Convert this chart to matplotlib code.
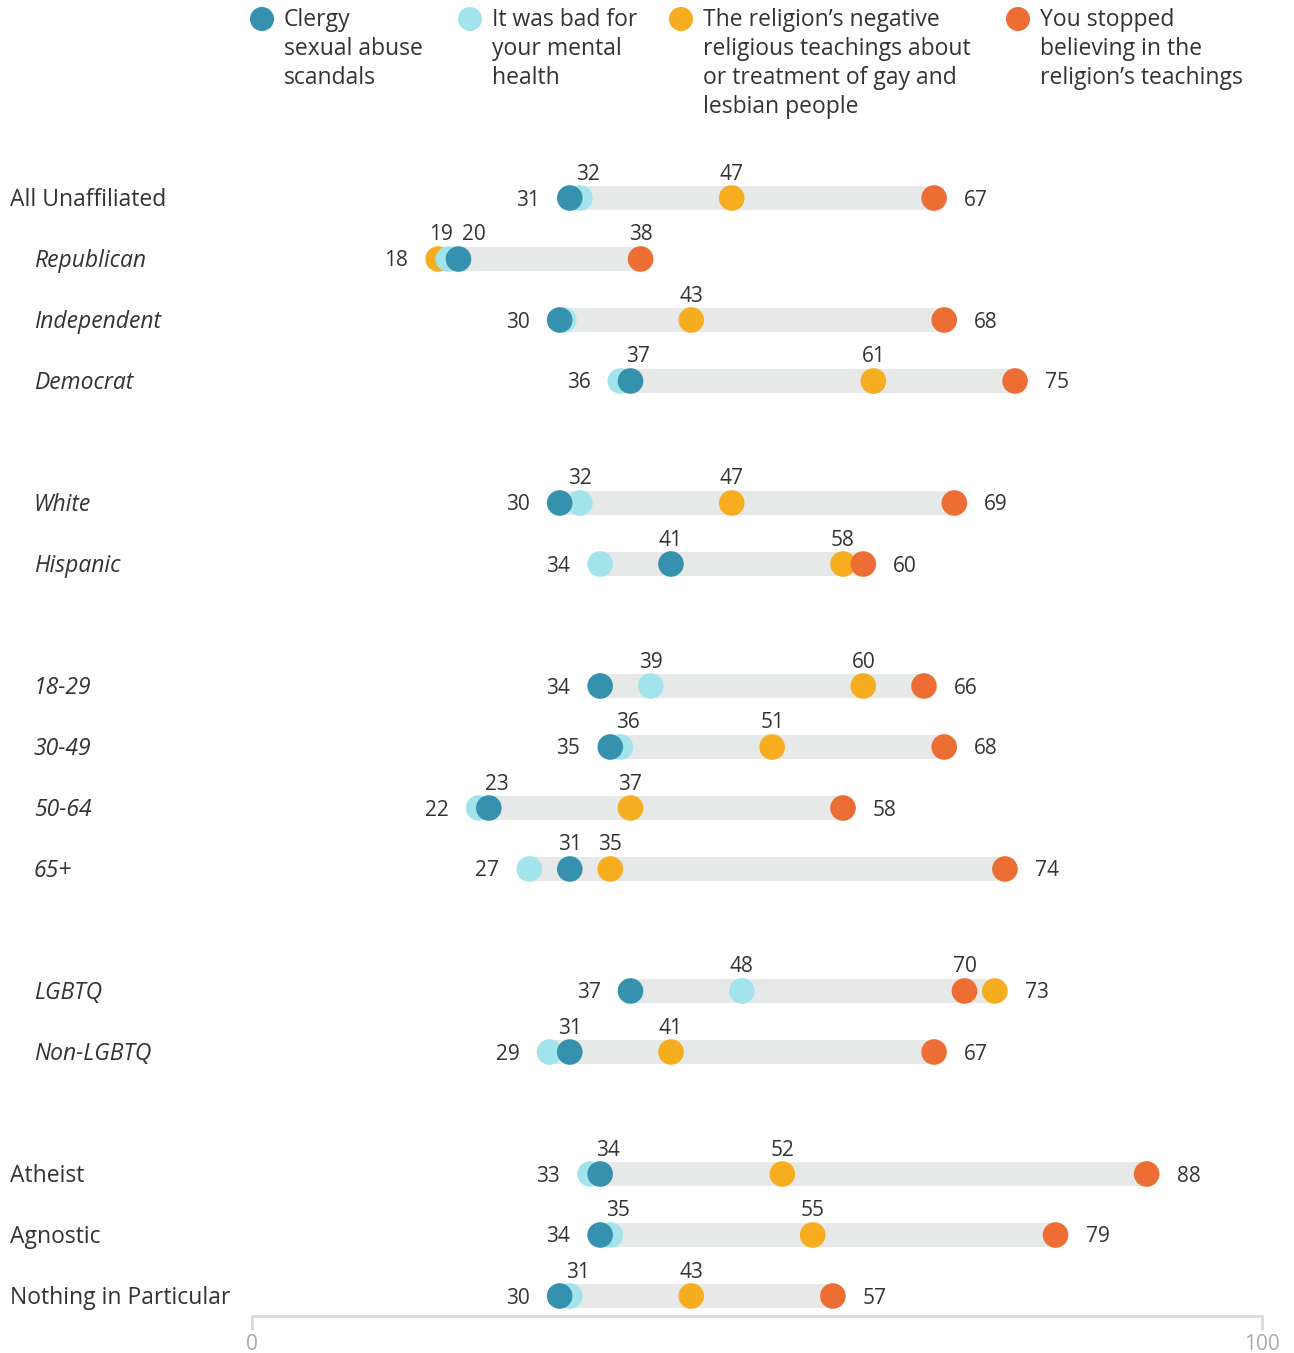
import numpy as np
import matplotlib.pyplot as plt

plt.rcParams['font.family'] = ['Open Sans', 'DejaVu Sans']

# data
rows = ['All Unaffiliated', 'Republican', 'Independent', 'Democrat',
        'White', 'Hispanic',
        '18-29', '30-49', '50-64', '65+',
        'LGBTQ', 'Non-LGBTQ',
        'Atheist', 'Agnostic', 'Nothing in Particular']
italic_rows = ['Republican', 'Independent', 'Democrat', 'White', 'Hispanic',
               '18-29', '30-49', '50-64', '65+', 'LGBTQ', 'Non-LGBTQ']
group_sizes = [4, 2, 4, 2, 3]

clergy = [31, 20, 30, 37, 30, 41, 34, 35, 23, 31, 37, 31, 34, 34, 30]
mental = [32, 19, 30.4, 36, 32, 34, 39, 36, 22, 27, 48, 29, 33, 35, 31]
negative = [47, 18, 43, 61, 47, 58, 60, 51, 37, 35, 73, 41, 52, 55, 43]
stopped = [67, 38, 68, 75, 69, 60, 66, 68, 58, 74, 70, 67, 88, 79, 57]

series_names = ['Clergy\nsexual abuse\nscandals',
                'It was bad for\nyour mental\nhealth',
                'The religion\u2019s negative\nreligious teachings about\nor treatment of gay and\nlesbian people',
                'You stopped\nbelieving in the\nreligion\u2019s teachings']
colors = ['#3591ae', '#a3e4ec', '#f6ad1f', '#ec6e35']

TXT = '#333333'
W, H = 1294, 1353
fig = plt.figure(figsize=(W / 100, H / 100), dpi=100)
top_px, bot_px = 140, 1316
ax = fig.add_axes([252 / W, (H - bot_px) / H, 1010 / W, (bot_px - top_px) / H])
ax.set_xlim(-0.4, 99.4)
ax.set_ylim(bot_px, top_px)

# row positions (pixel-like units from top), one blank slot between groups
slots = []
k = 0
for g in group_sizes:
    slots.extend(range(k, k + g))
    k += g + 1
ypos = [198 + 61 * s for s in slots]

series = [clergy, mental, negative, stopped]
draw_order = [2, 3, 1, 0]
pxu = 1010 / 99.8  # pixels per data unit

for i, name in enumerate(rows):
    y = ypos[i]
    vals = [s[i] for s in series]
    lo, hi = min(vals), max(vals)
    ax.barh(y, hi - lo, left=lo, height=24, color='#e7e8e8', zorder=1)
    for j in draw_order:
        ax.scatter(vals[j], y, s=340, color=colors[j], edgecolor='none',
                   zorder=3 + draw_order.index(j), clip_on=False)
    # value labels
    shown = set()
    order = np.argsort(vals)
    above = []
    for rank, j in enumerate(order):
        v = vals[j]
        r = int(round(v))
        if r in shown:
            continue
        shown.add(r)
        if rank == 0:
            ax.annotate(str(r), (v, y), xytext=(-30, -2), textcoords='offset pixels',
                        ha='right', va='center', fontsize=15, color=TXT)
        elif rank == len(vals) - 1 and name != 'Republican':
            ax.annotate(str(r), (v, y), xytext=(30, -2), textcoords='offset pixels',
                        ha='left', va='center', fontsize=15, color=TXT)
        else:
            above.append((v, r))
    # spread labels above the bar so they do not collide
    offs = [8 if (v - lo) * pxu < 16 else 0 for v, r in above]
    for a in range(1, len(above)):
        gap = (above[a][0] - above[a - 1][0]) * pxu + offs[a] - offs[a - 1]
        if gap < 32:
            offs[a - 1] -= (32 - gap) / 2
            offs[a] += (32 - gap) / 2
    for (v, r), dx in zip(above, offs):
        ax.annotate(str(r), (v, y), xytext=(dx, 24), textcoords='offset pixels',
                    ha='center', va='center', fontsize=15, color=TXT)
    # row label
    x0 = 34 if name in italic_rows else 10
    fig.text(x0 / W, 1 - (y + 2) / H, name, ha='left', va='center', fontsize=16.5,
             color=TXT, style='italic' if name in italic_rows else 'normal')

# axis styling
for s in ['top', 'right', 'left']:
    ax.spines[s].set_visible(False)
ax.spines['bottom'].set_color('#d9d9d9')
ax.spines['bottom'].set_linewidth(2)
ax.set_yticks([])
ax.set_xticks([-0.4, 99.4], ['0', '100'])
ax.tick_params(axis='x', length=10, width=2, color='#d9d9d9', labelcolor='#aaaaaa',
               labelsize=15, pad=3)

# legend
lax = fig.add_axes([0, 0, 1, 1])
lax.set_xlim(0, W)
lax.set_ylim(H, 0)
lax.axis('off')
leg_x = [262, 470, 681, 1018]
for name, c, lx in zip(series_names, colors, leg_x):
    lax.scatter(lx, 19, s=300, color=c, edgecolor='none')
    lax.text(lx + 22, 8, name, ha='left', va='top', fontsize=16.5,
             color=TXT, linespacing=1.27)

fig.savefig('out.png', dpi=100, facecolor='white')
